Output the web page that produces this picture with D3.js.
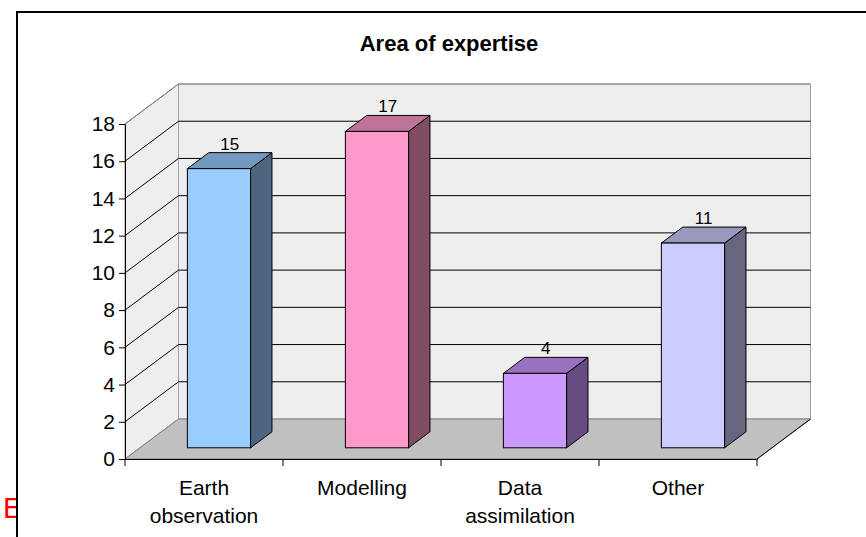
<!DOCTYPE html>
<html>
<head>
<meta charset="utf-8">
<script src="https://cdn.jsdelivr.net/npm/d3@7"></script>
<style>
  body { margin: 0; background: #fff; overflow: hidden; }
  text { font-family: "Liberation Sans", Arial, sans-serif; }
</style>
</head>
<body>
<div id="chart"></div>
<script>
const categories = ["Earth observation", "Modelling", "Data assimilation", "Other"];
const labelLines = [["Earth", "observation"], ["Modelling"], ["Data", "assimilation"], ["Other"]];
const values = [15, 17, 4, 11];
const yTicks = [0, 2, 4, 6, 8, 10, 12, 14, 16, 18];
const frontColors = ["#99ccff", "#ff99cc", "#cc99ff", "#ccccff"];
const topColors = ["#7399bf", "#bf7399", "#9973bf", "#9999bf"];
const sideColors = ["#4c6680", "#804c66", "#664c80", "#666680"];

const width = 866;
const height = 537;

const svg = d3.select("#chart")
    .append("svg")
    .attr("width", width)
    .attr("height", height);

// stray red letter that sits behind the chart box
svg.append("text")
    .attr("x", 3)
    .attr("y", 518)
    .attr("fill", "red")
    .style("font-size", "29px")
    .text("E");

// chart box
svg.append("rect")
    .attr("x", 17)
    .attr("y", 12)
    .attr("width", 900)
    .attr("height", 600)
    .attr("fill", "#fff")
    .attr("stroke", "#000")
    .attr("stroke-width", 2);

svg.append("text")
    .attr("x", 449)
    .attr("y", 51)
    .attr("text-anchor", "middle")
    .style("font-size", "22px")
    .style("font-weight", "bold")
    .text("Area of expertise");

// scales
const x = d3.scaleBand()
    .domain(categories)
    .range([125, 757])
    .padding(0);

const y = d3.scaleLinear()
    .domain([0, 18])
    .range([459, 124]);

// depth offset of the 3D box
const depthX = 53.5;
const depthY = -40;

const x0 = 125, x1 = 757;
const y0 = y(0), yTop = y(18);

// left wall
svg.append("polygon")
    .attr("points", [[x0, y0], [x0, yTop], [x0 + depthX, yTop + depthY], [x0 + depthX, y0 + depthY]].join(" "))
    .attr("fill", "#eeeeee")
    .attr("stroke", "#808080");

// back wall
svg.append("polygon")
    .attr("points", [[x0 + depthX, yTop + depthY], [x1 + depthX, yTop + depthY], [x1 + depthX, y0 + depthY], [x0 + depthX, y0 + depthY]].join(" "))
    .attr("fill", "#eeeeee")
    .attr("stroke", "#a0a0a0");

// floor
svg.append("polygon")
    .attr("points", [[x0, y0], [x1, y0], [x1 + depthX, y0 + depthY], [x0 + depthX, y0 + depthY]].join(" "))
    .attr("fill", "#c0c0c0")
    .attr("stroke", "#808080");

// gridlines on the walls
const grid = svg.append("g");
yTicks.filter(d => d > 0).forEach(d => {
    const c = d === 18 ? "#808080" : "#000";
    grid.append("polyline")
        .attr("points", [[x0, y(d)], [x0 + depthX, y(d) + depthY], [x1 + depthX, y(d) + depthY]].join(" "))
        .attr("fill", "none")
        .attr("stroke", c)
        .attr("stroke-width", 1);
});

// floor right edge
svg.append("line")
    .attr("x1", x1).attr("y1", y0)
    .attr("x2", x1 + depthX).attr("y2", y0 + depthY)
    .attr("stroke", "#000");

// y axis
const yAxis = svg.append("g")
    .attr("transform", `translate(${x0},0)`)
    .call(d3.axisLeft(y).tickValues(yTicks).tickSize(6).tickSizeOuter(0).tickPadding(4));
yAxis.select(".domain").attr("stroke", "#000");
yAxis.selectAll("text")
    .style("font-size", "21px")
    .attr("fill", "#000");

// x axis
const xAxis = svg.append("g")
    .attr("transform", `translate(0,${y0})`)
    .call(d3.axisBottom(x).tickSize(0).tickSizeOuter(0).tickFormat(""));
xAxis.select(".domain").attr("stroke", "#000");
xAxis.selectAll(".tick").remove();

const boundaries = categories.map(c => x(c)).concat([x1]);
svg.selectAll(".xtick")
    .data(boundaries)
    .join("line")
    .attr("class", "xtick")
    .attr("x1", d => d).attr("x2", d => d)
    .attr("y1", y0).attr("y2", y0 + 7)
    .attr("stroke", "#000");

// category labels
svg.selectAll(".cat")
    .data(categories)
    .join("text")
    .attr("class", "cat")
    .attr("text-anchor", "middle")
    .style("font-size", "21px")
    .each(function (d, i) {
        const t = d3.select(this);
        labelLines[i].forEach((line, j) => {
            t.append("tspan")
                .attr("x", x(d) + x.bandwidth() / 2)
                .attr("y", 495 + j * 28)
                .text(line);
        });
    });

// bars
const barW = x.bandwidth() * 0.4;
const frontD = 0.28;   // depth fraction of bar front face
const backD = 0.68;    // depth fraction of bar back face

const bars = svg.selectAll(".bar")
    .data(values)
    .join("g")
    .attr("class", "bar");

bars.each(function (v, i) {
    const g = d3.select(this);
    const cx = x(categories[i]) + x.bandwidth() / 2;
    const fx = cx - barW / 2 + frontD * depthX;
    const fy = frontD * depthY;
    const bdx = (backD - frontD) * depthX;
    const bdy = (backD - frontD) * depthY;
    const top = y(v) + fy;
    const bot = y(0) + fy;

    // side face
    g.append("polygon")
        .attr("points", [[fx + barW, top], [fx + barW + bdx, top + bdy], [fx + barW + bdx, bot + bdy], [fx + barW, bot]].join(" "))
        .attr("fill", sideColors[i])
        .attr("stroke", "#000")
        .attr("stroke-width", 1)
        .attr("stroke-linejoin", "round");
    // top face
    g.append("polygon")
        .attr("points", [[fx, top], [fx + bdx, top + bdy], [fx + barW + bdx, top + bdy], [fx + barW, top]].join(" "))
        .attr("fill", topColors[i])
        .attr("stroke", "#000")
        .attr("stroke-width", 1)
        .attr("stroke-linejoin", "round");
    // front face
    g.append("rect")
        .attr("x", fx)
        .attr("y", top)
        .attr("width", barW)
        .attr("height", bot - top)
        .attr("fill", frontColors[i])
        .attr("stroke", "#000")
        .attr("stroke-width", 1);

    g.append("text")
        .attr("x", fx + barW / 2 + bdx / 2)
        .attr("y", top + bdy - 3)
        .attr("text-anchor", "middle")
        .style("font-size", "17px")
        .text(v);
});
</script>
</body>
</html>
